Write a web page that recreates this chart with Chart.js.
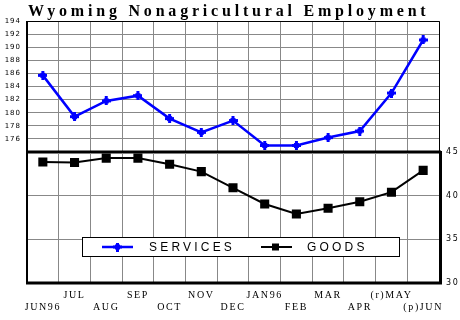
<!DOCTYPE html>
<html>
<head>
<meta charset="utf-8">
<script src="https://cdn.jsdelivr.net/npm/chart.js@4/dist/chart.umd.min.js"></script>
<style>
  body { margin: 0; background: #fff; width: 460px; height: 320px; position: relative; overflow: hidden; }
  canvas { position: absolute; left: 0; }
</style>
</head>
<body>
<canvas id="topChart" width="460" height="160" style="top:0"></canvas>
<canvas id="bottomChart" width="460" height="180" style="top:140px"></canvas>
<script>
// 資料
var title = "Wyoming Nonagricultural Employment";
var months = ["JUN96", "JUL", "AUG", "SEP", "OCT", "NOV", "DEC", "JAN96", "FEB", "MAR", "APR", "(r)MAY", "(p)JUN"];
var services = [185.7, 179.4, 181.8, 182.6, 179.1, 177.0, 178.8, 175.0, 175.0, 176.2, 177.2, 183.0, 191.1];
var goods = [43.85, 43.8, 44.3, 44.3, 43.6, 42.75, 40.9, 39.05, 37.9, 38.55, 39.3, 40.4, 42.9];
var servicesAxis = [174, 194, 2];   // min, max, step
var goodsAxis = [30, 45, 5];
var seriesNames = ["SERVICES", "GOODS"];

var BLUE = "#0000ff";
var GRID = "#888888";

// 藍色十字標記
var plus = document.createElement("canvas");
plus.width = 9; plus.height = 9;
var pc = plus.getContext("2d");
pc.fillStyle = BLUE;
pc.fillRect(0, 3, 9, 3);
pc.fillRect(3, 0, 3, 9);
pc.fillRect(2, 2, 5, 5);

function spacing(px) {
  return { id: "spacing", beforeDraw: function (chart) { chart.ctx.letterSpacing = px; } };
}

// 上圖：服務業
new Chart(document.getElementById("topChart"), {
  type: "line",
  data: {
    labels: months,
    datasets: [{ label: seriesNames[0], data: services, borderColor: BLUE, borderWidth: 2.5,
      pointStyle: plus, pointRadius: 4, tension: 0 }],
  },
  options: {
    responsive: false, animation: false,
    layout: { autoPadding: false, padding: { top: 21, right: 21, bottom: 8, left: 0 } },
    plugins: { legend: { display: false }, tooltip: { enabled: false } },
    scales: {
      x: {
        offset: true,
        grid: { offset: true, color: GRID, drawTicks: false },
        border: { display: false },
        ticks: { display: false },
        afterFit: function (s) { s.height = 0; },
      },
      y: {
        min: servicesAxis[0], max: servicesAxis[1],
        grid: { color: GRID, drawTicks: false },
        border: { display: false },
        ticks: {
          stepSize: servicesAxis[2], padding: 6, color: "#000",
          font: { family: "DejaVu Sans", size: 7 },
          callback: function (v) { return v === servicesAxis[0] ? "" : v; },
        },
        afterFit: function (s) { s.width = 27; s.paddingTop = 0; s.paddingBottom = 0; },
      },
    },
  },
  plugins: [spacing("1px"), {
    id: "frame",
    afterDraw: function (chart) {
      var a = chart.chartArea, ctx = chart.ctx;
      ctx.save();
      ctx.strokeStyle = "#000";
      ctx.lineWidth = 1;
      ctx.beginPath();
      ctx.moveTo(a.left, a.top + 0.5); ctx.lineTo(a.right + 0.5, a.top + 0.5); ctx.lineTo(a.right + 0.5, a.bottom);
      ctx.stroke();
      ctx.lineWidth = 2;
      ctx.beginPath(); ctx.moveTo(a.left, a.top); ctx.lineTo(a.left, a.bottom); ctx.stroke();
      ctx.lineWidth = 3;
      ctx.beginPath(); ctx.moveTo(a.left - 1, a.bottom); ctx.lineTo(a.right + 2, a.bottom); ctx.stroke();
      // 標題
      ctx.letterSpacing = "3.8px";
      ctx.fillStyle = "#000";
      ctx.font = "bold 16px 'Liberation Serif'";
      ctx.textBaseline = "alphabetic";
      ctx.textAlign = "left";
      ctx.fillText(title, 28, 16);
      ctx.restore();
    },
  }],
});

// 下圖：製造業
new Chart(document.getElementById("bottomChart"), {
  type: "line",
  data: {
    labels: months,
    datasets: [{ label: seriesNames[1], data: goods, borderColor: "#000", backgroundColor: "#000",
      borderWidth: 2, pointStyle: "rect", pointRadius: 5, tension: 0 }],
  },
  options: {
    responsive: false, animation: false,
    layout: { autoPadding: false, padding: { top: 12, right: 0, bottom: 0, left: 27 } },
    plugins: { legend: { display: false }, tooltip: { enabled: false } },
    scales: {
      x: {
        offset: true,
        grid: { offset: true, color: GRID, drawTicks: false },
        border: { display: false },
        ticks: {
          autoSkip: false, maxRotation: 0, padding: 6, color: "#000",
          font: { family: "Liberation Serif", size: 10, lineHeight: 1.2 },
          callback: function (v, i) { return i % 2 === 0 ? ["", months[i]] : [months[i], ""]; },
        },
        afterFit: function (s) { s.height = 37; },
      },
      y: {
        position: "right",
        min: goodsAxis[0], max: goodsAxis[1],
        grid: { color: GRID, drawTicks: false },
        border: { display: false },
        ticks: { stepSize: goodsAxis[2], padding: 7, color: "#000", font: { family: "DejaVu Sans", size: 8 } },
        afterFit: function (s) { s.width = 21; s.paddingTop = 0; s.paddingBottom = 0; },
      },
    },
  },
  plugins: [spacing("1.6px"), {
    id: "frameLegend",
    afterDraw: function (chart) {
      var a = chart.chartArea, ctx = chart.ctx;
      ctx.save();
      ctx.strokeStyle = "#000";
      ctx.lineWidth = 2;
      ctx.beginPath(); ctx.moveTo(a.left - 1, a.top); ctx.lineTo(a.right + 2, a.top); ctx.stroke();
      ctx.beginPath(); ctx.moveTo(a.left, a.top); ctx.lineTo(a.left, a.bottom); ctx.stroke();
      ctx.lineWidth = 3;
      ctx.beginPath(); ctx.moveTo(a.left - 1, a.bottom); ctx.lineTo(a.right + 1.5, a.bottom);
      ctx.moveTo(a.right + 1.5, a.top - 1); ctx.lineTo(a.right + 1.5, a.bottom + 1.5); ctx.stroke();

      // 圖例
      var lx = a.left + 55, ly = a.top + 85, lw = 317, lh = 19;
      ctx.fillStyle = "#fff";
      ctx.fillRect(lx, ly, lw, lh);
      ctx.lineWidth = 1;
      ctx.strokeRect(lx + 0.5, ly + 0.5, lw, lh);
      var cy = ly + lh / 2 + 0.5;
      ctx.lineWidth = 2.5;
      ctx.strokeStyle = BLUE;
      ctx.beginPath(); ctx.moveTo(lx + 20, cy); ctx.lineTo(lx + 51, cy); ctx.stroke();
      ctx.drawImage(plus, lx + 31, cy - 4.5);
      ctx.strokeStyle = "#000";
      ctx.lineWidth = 2;
      ctx.beginPath(); ctx.moveTo(lx + 179, cy); ctx.lineTo(lx + 210, cy); ctx.stroke();
      ctx.fillStyle = "#000";
      ctx.fillRect(lx + 190, cy - 3.5, 7, 7);
      ctx.letterSpacing = "3.2px";
      ctx.font = "12px 'Liberation Sans'";
      ctx.textBaseline = "middle";
      ctx.textAlign = "left";
      ctx.fillText(seriesNames[0], lx + 67, cy + 0.5);
      ctx.fillText(seriesNames[1], lx + 225, cy + 0.5);
      ctx.restore();
    },
  }],
});
</script>
</body>
</html>
